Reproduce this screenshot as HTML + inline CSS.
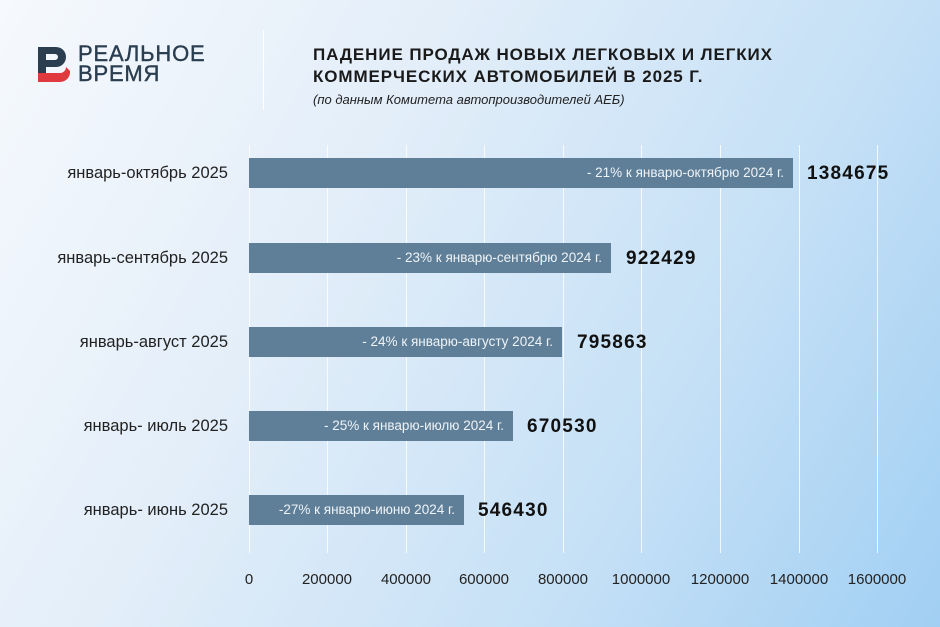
<!DOCTYPE html>
<html><head><meta charset="utf-8"><style>
body{margin:0;}
#c{position:relative;width:940px;height:627px;overflow:hidden;font-family:"Liberation Sans",sans-serif;
background:linear-gradient(120deg,#f6f9fd 0%,#e3eef9 35%,#c5e0f6 70%,#a1cff3 100%);}
.g{position:absolute;top:145px;height:408px;width:1px;background:rgba(255,255,255,.8);}
.bar{position:absolute;left:249px;height:30px;background:#5f7f98;color:#eef3f7;font-size:13.5px;line-height:30px;text-align:right;box-sizing:border-box;padding-right:9px;white-space:nowrap;}
.v{position:absolute;font-weight:bold;font-size:19px;color:#111;letter-spacing:1.2px;}
.cat{position:absolute;right:712px;font-size:16.5px;color:#222;white-space:nowrap;}
.t{position:absolute;font-size:15px;color:#222;transform:translateX(-50%);top:571px;}
</style></head><body><div id="c">
<svg style="position:absolute;left:38px;top:47px" width="32" height="36" viewBox="0 0 32 36">
<path d="M0 0H18A10 10 0 0 1 18 20H8V26H0Z M8 7V13H17A3 3 0 0 0 17 7Z" fill="#2b3e50" fill-rule="evenodd"/>
<path d="M0 26H22A6 6 0 0 0 28 20L32 24A10 10 0 0 1 22 35H0Z" fill="#e0393e"/>
</svg>
<div style="position:absolute;left:78px;top:44px;font-size:22px;line-height:20px;color:#2b3e50;letter-spacing:.8px;-webkit-text-stroke:.4px #2b3e50">РЕАЛЬНОЕ<br>ВРЕМЯ</div>
<div style="position:absolute;left:263px;top:30px;width:1px;height:80px;background:rgba(255,255,255,.9)"></div>
<div style="position:absolute;left:313px;top:44px;font-size:17px;font-weight:bold;line-height:22px;color:#1a1a1a;letter-spacing:.9px">ПАДЕНИЕ ПРОДАЖ НОВЫХ ЛЕГКОВЫХ И ЛЕГКИХ<br>КОММЕРЧЕСКИХ АВТОМОБИЛЕЙ В 2025 Г.</div>
<div style="position:absolute;left:313px;top:92px;font-size:13px;font-style:italic;color:#222">(по данным Комитета автопроизводителей АЕБ)</div>
<div class="g" style="left:249px"></div><div class="g" style="left:327px"></div><div class="g" style="left:406px"></div><div class="g" style="left:484px"></div><div class="g" style="left:563px"></div><div class="g" style="left:641px"></div><div class="g" style="left:720px"></div><div class="g" style="left:799px"></div><div class="g" style="left:877px"></div>
<div class="bar" style="top:158px;width:544px">- 21% к январю-октябрю 2024 г.</div><div class="v" style="left:807px;top:163px">1384675</div>
<div class="bar" style="top:243px;width:362px">- 23% к январю-сентябрю 2024 г.</div><div class="v" style="left:626px;top:248px">922429</div>
<div class="bar" style="top:327px;width:313px">- 24% к январю-августу 2024 г.</div><div class="v" style="left:577px;top:332px">795863</div>
<div class="bar" style="top:411px;width:264px">- 25% к январю-июлю 2024 г.</div><div class="v" style="left:527px;top:416px">670530</div>
<div class="bar" style="top:495px;width:215px">-27% к январю-июню 2024 г.</div><div class="v" style="left:478px;top:500px">546430</div>
<div class="cat" style="top:164px">январь-октябрь 2025</div>
<div class="cat" style="top:249px">январь-сентябрь 2025</div>
<div class="cat" style="top:333px">январь-август 2025</div>
<div class="cat" style="top:417px">январь- июль 2025</div>
<div class="cat" style="top:501px">январь- июнь 2025</div>
<div class="t" style="left:249px">0</div><div class="t" style="left:327px">200000</div><div class="t" style="left:406px">400000</div><div class="t" style="left:484px">600000</div><div class="t" style="left:563px">800000</div><div class="t" style="left:641px">1000000</div><div class="t" style="left:720px">1200000</div><div class="t" style="left:799px">1400000</div><div class="t" style="left:877px">1600000</div>
</div></body></html>
